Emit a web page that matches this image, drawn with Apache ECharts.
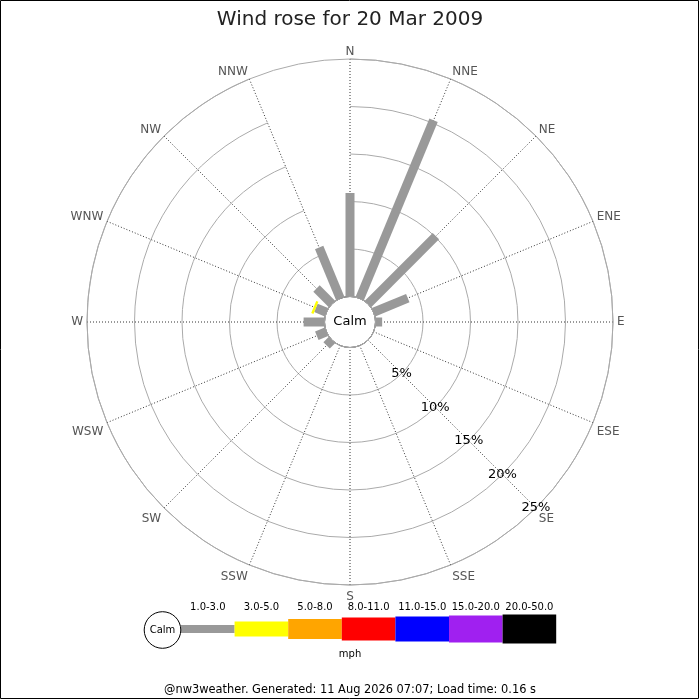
<!DOCTYPE html>
<html>
<head>
    <meta charset="utf-8">
    <title>Wind rose</title>
    <script src="https://cdn.jsdelivr.net/npm/echarts@6/dist/echarts.min.js"></script>
    <style>
        html, body { margin: 0; padding: 0; background: #fff; }
    </style>
</head>
<body>
    <div id="main" style="width: 700px;height:700px;"></div>
    <script type="text/javascript">
        // 16 compass points, clockwise from north
        var directions = ['N', 'NNE', 'NE', 'ENE', 'E', 'ESE', 'SE', 'SSE',
                          'S', 'SSW', 'SW', 'WSW', 'W', 'WNW', 'NW', 'NNW'];
        var speedBins = ['1.0-3.0', '3.0-5.0', '5.0-8.0', '8.0-11.0', '11.0-15.0', '15.0-20.0', '20.0-50.0'];
        var binColors = ['#999999', '#ffff00', '#ffa500', '#ff0000', '#0000ff', '#a020f0', '#000000'];

        // frequency (%) per direction for each speed bin
        var freq1to3   = [10.9, 20.3, 10.1, 3.9, 0.7, 0, 0, 0, 0, 0, 0.8, 1.1, 2.2, 1.2, 2.3, 5.8];
        var freq3to5   = [0, 0, 0, 0, 0, 0, 0, 0, 0, 0, 0, 0, 0, 0.25, 0, 0];
        var freq5to8   = [0, 0, 0, 0, 0, 0, 0, 0, 0, 0, 0, 0, 0, 0, 0, 0];
        var freq8to11  = [0, 0, 0, 0, 0, 0, 0, 0, 0, 0, 0, 0, 0, 0, 0, 0];
        var freq11to15 = [0, 0, 0, 0, 0, 0, 0, 0, 0, 0, 0, 0, 0, 0, 0, 0];
        var freq15to20 = [0, 0, 0, 0, 0, 0, 0, 0, 0, 0, 0, 0, 0, 0, 0, 0];
        var freq20to50 = [0, 0, 0, 0, 0, 0, 0, 0, 0, 0, 0, 0, 0, 0, 0, 0];
        var binFreqs = [freq1to3, freq3to5, freq5to8, freq8to11, freq11to15, freq15to20, freq20to50];

        var ringTicks = [5, 10, 15, 20, 25];

        var myChart = echarts.init(document.getElementById('main'));
        var font = 'DejaVu Sans';

        // bar thickness (px) per speed bin in the rose, and block height in the key
        var roseWidths = [9, 13, 16, 19, 21, 23, 25];
        var keyHeights = [8, 15, 20, 23, 25, 27, 29];

        // stack the bins outward for each direction
        var stacked = directions.map(function () { return 0; });
        var series = speedBins.map(function (bin, b) {
            var data = [];
            directions.forEach(function (d, i) {
                var v = binFreqs[b][i];
                if (v > 0) {
                    data.push([stacked[i], i, stacked[i] + v]);
                    stacked[i] += v;
                }
            });
            return {
                type: 'custom',
                name: bin,
                coordinateSystem: 'polar',
                polarIndex: 0,
                itemStyle: { color: binColors[b] },
                data: data,
                z: 5,
                renderItem: function (params, api) {
                    var p0 = api.coord([api.value(0), api.value(1)]);
                    var p1 = api.coord([api.value(2), api.value(1)]);
                    var dx = p1[0] - p0[0], dy = p1[1] - p0[1];
                    var len = Math.sqrt(dx * dx + dy * dy) || 1;
                    var w = roseWidths[b] / 2;
                    var nx = -dy / len * w, ny = dx / len * w;
                    return {
                        type: 'polygon',
                        shape: { points: [
                            [p0[0] + nx, p0[1] + ny], [p1[0] + nx, p1[1] + ny],
                            [p1[0] - nx, p1[1] - ny], [p0[0] - nx, p0[1] - ny]
                        ] },
                        style: { fill: binColors[b] }
                    };
                }
            };
        });

        // key along the bottom
        var keyGraphics = [];
        var keyX = 181, keyW = 53.6, keyY = 629;
        speedBins.forEach(function (bin, b) {
            keyGraphics.push({
                type: 'rect',
                shape: { x: keyX + b * keyW, y: keyY - keyHeights[b] / 2, width: keyW, height: keyHeights[b] },
                style: { fill: binColors[b] }
            });
            keyGraphics.push({
                type: 'text',
                x: keyX + b * keyW + keyW / 2, y: 607,
                style: { text: bin, font: '10px ' + font, fill: '#000', align: 'center', verticalAlign: 'middle' }
            });
        });
        keyGraphics.push({
            type: 'circle', shape: { cx: 162.5, cy: 630, r: 18.3 },
            style: { fill: '#fff', stroke: '#000', lineWidth: 1 }
        });
        keyGraphics.push({
            type: 'text', x: 162.5, y: 630,
            style: { text: 'Calm', font: '10px ' + font, fill: '#000', align: 'center', verticalAlign: 'middle' }
        });
        keyGraphics.push({
            type: 'text', x: 350, y: 654,
            style: { text: 'mph', font: '10px ' + font, fill: '#000', align: 'center', verticalAlign: 'middle' }
        });

        var option = {
            animation: false,
            title: {
                text: 'Wind rose for 20 Mar 2009',
                left: 'center',
                top: 5,
                textStyle: { fontFamily: font, fontSize: 20, fontWeight: 'normal', color: '#222' }
            },
            polar: [
                { center: [350, 322], radius: [25.5, 263] },
                { center: [350, 322], radius: [25.5, 263] }
            ],
            angleAxis: [{
                polarIndex: 0,
                type: 'category',
                data: directions,
                boundaryGap: false,
                startAngle: 90,
                clockwise: true,
                axisLine: { show: true, lineStyle: { color: '#aaa', width: 1 } },
                axisTick: { show: false },
                axisLabel: { color: '#555', fontFamily: font, fontSize: 12, margin: 4, padding: [2, 0, -3, 0] },
                splitLine: { show: true, lineStyle: { color: '#333', width: 1, type: [1, 2] } },
                z: 1
            }, {
                polarIndex: 1,
                type: 'value',
                min: 0, max: 360,
                startAngle: -45,
                axisLine: { show: false },
                axisTick: { show: false },
                axisLabel: { show: false },
                splitLine: { show: false }
            }],
            radiusAxis: [{
                polarIndex: 0,
                type: 'value',
                min: 0, max: 25, interval: 5,
                axisLine: { show: false },
                axisTick: { show: false },
                axisLabel: { show: false },
                splitLine: { show: true, lineStyle: { color: '#aaa', width: 1 } },
                z: 1
            }, {
                polarIndex: 1,
                type: 'value',
                min: 0, max: 25, interval: 5,
                axisLine: { show: false },
                axisTick: { show: false },
                splitLine: { show: false },
                axisLabel: {
                    show: true, showMinLabel: false, margin: 0,
                    align: 'center', verticalAlign: 'middle',
                    color: '#000', fontFamily: font, fontSize: 13,
                    formatter: function (v) { return ringTicks.indexOf(v) >= 0 ? v + '%' : ''; }
                },
                z: 10
            }],
            series: series,
            graphic: [{
                type: 'group',
                z: 20,
                children: [{
                    type: 'circle', shape: { cx: 350, cy: 322, r: 25.5 },
                    style: { fill: '#fff', stroke: '#000', lineWidth: 1 }
                }, {
                    type: 'text', x: 350, y: 322,
                    style: { text: 'Calm', font: '13px ' + font, fill: '#000', align: 'center', verticalAlign: 'middle' }
                }]
            }, {
                type: 'group',
                z: 20,
                children: keyGraphics
            }, {
                type: 'text', x: 350, y: 690, z: 20,
                style: {
                    text: '@nw3weather. Generated: 11 Aug 2026 07:07; Load time: 0.16 s',
                    font: '11.4px ' + font, fill: '#000', align: 'center', verticalAlign: 'middle'
                }
            }, {
                type: 'rect', z: 20,
                shape: { x: 0.5, y: 0.5, width: 698, height: 698 },
                style: { fill: 'none', stroke: '#000', lineWidth: 1 }
            }]
        };

        myChart.setOption(option);
    </script>
</body>
</html>
